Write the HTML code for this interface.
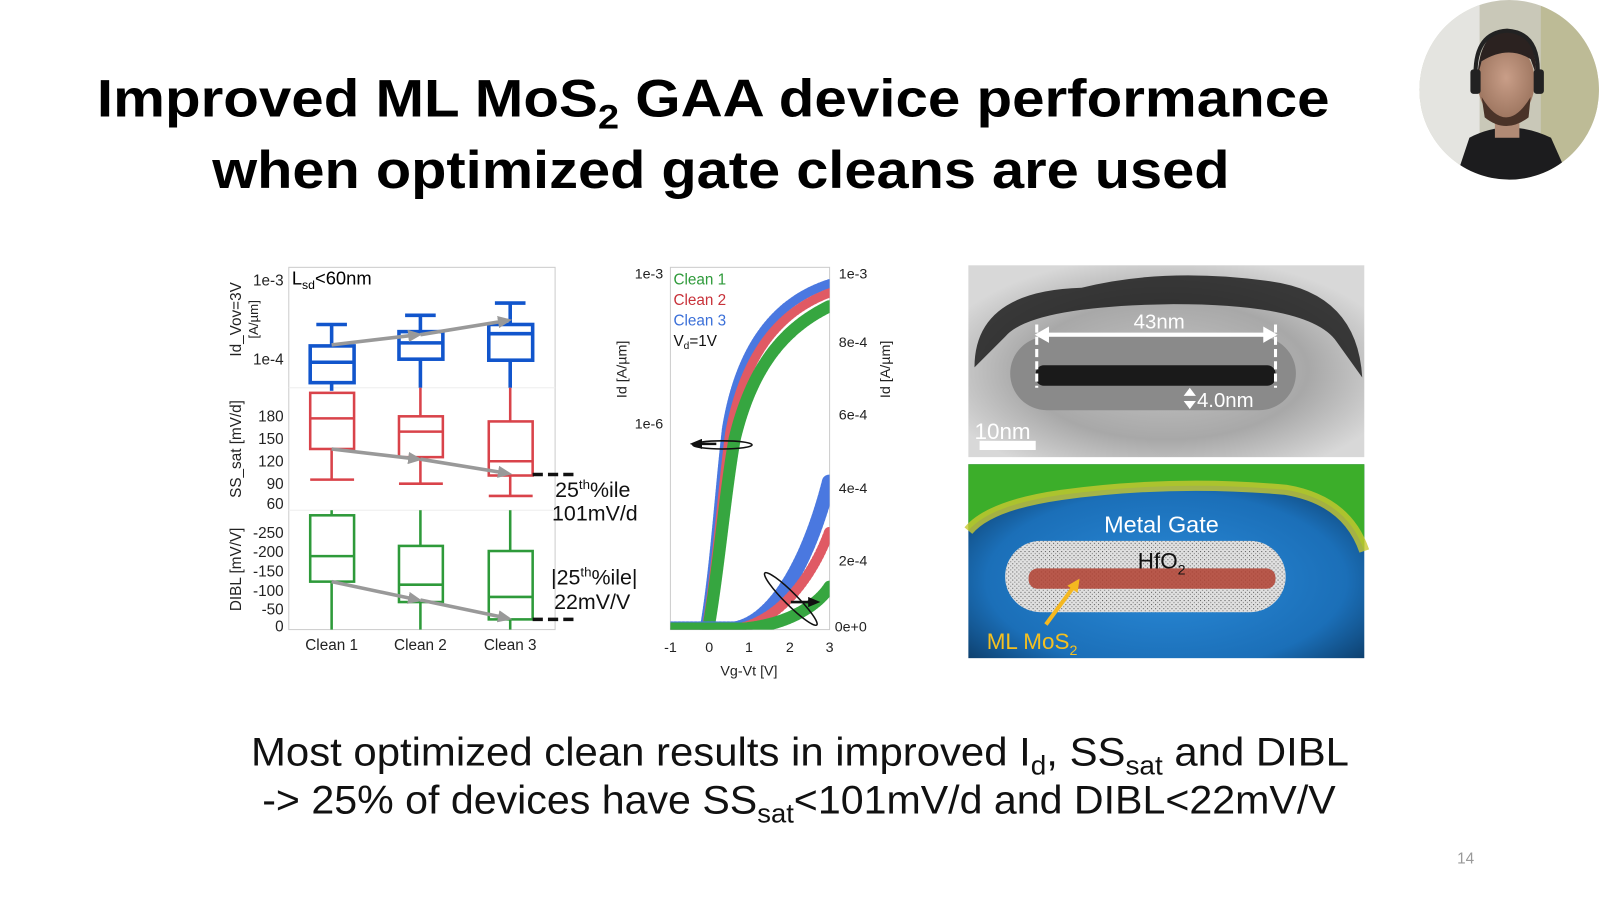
<!DOCTYPE html>
<html><head><meta charset="utf-8"><style>
html,body{margin:0;padding:0;background:#fff;}
svg{display:block;}
text{font-family:"Liberation Sans",sans-serif;}
</style></head><body>
<svg width="1600" height="900" viewBox="0 0 1568 882" preserveAspectRatio="none" xmlns="http://www.w3.org/2000/svg">
<defs>
<radialGradient id="face" cx="50%" cy="45%" r="50%"><stop offset="0" stop-color="#c99e88"/><stop offset="1" stop-color="#a07862"/></radialGradient>
<marker id="ga" markerUnits="userSpaceOnUse" markerWidth="14" markerHeight="12" refX="10" refY="6" orient="auto"><path d="M0,0 L14,6 L0,12z" fill="#999"/></marker>
<marker id="ba" markerUnits="userSpaceOnUse" markerWidth="12" markerHeight="10" refX="8" refY="5" orient="auto"><path d="M0,0 L12,5 L0,10z" fill="#111"/></marker>
<radialGradient id="tem" cx="50%" cy="55%" r="60%"><stop offset="0" stop-color="#c4c4c4"/><stop offset="0.6" stop-color="#a8a8a8"/><stop offset="1" stop-color="#d8d8d8"/></radialGradient>
<radialGradient id="eds" cx="50%" cy="60%" r="65%"><stop offset="0" stop-color="#2a8ad8"/><stop offset="0.7" stop-color="#1b6fb8"/><stop offset="1" stop-color="#0d3e6b"/></radialGradient>
<pattern id="dots" width="4" height="4" patternUnits="userSpaceOnUse"><rect width="4" height="4" fill="#e0e0e0"/><rect width="1" height="1" fill="#555"/><rect x="2" y="2" width="1" height="1" fill="#777"/></pattern>
</defs>
<rect width="1568" height="882" fill="#fff"/>

<text x="95" y="114" font-size="52" font-weight="bold" textLength="1208" lengthAdjust="spacingAndGlyphs">Improved ML MoS<tspan font-size="34" dy="12">2</tspan><tspan dy="-12"> GAA device performance</tspan></text>
<text x="208" y="184" font-size="52" font-weight="bold" textLength="997" lengthAdjust="spacingAndGlyphs">when optimized gate cleans are used</text>

<clipPath id="cc"><circle cx="1479" cy="88" r="88"/></clipPath>
<g clip-path="url(#cc)">
<rect x="1390" y="0" width="180" height="180" fill="#c9c8b8"/>
<rect x="1390" y="0" width="60" height="180" fill="#e4e4e0"/>
<rect x="1510" y="0" width="60" height="180" fill="#bdbb96"/>
<path d="M1425,180 L1440,135 Q1478,115 1520,135 L1540,180z" fill="#1c1c1e"/>
<rect x="1465" y="105" width="24" height="30" fill="#b08a75"/>
<ellipse cx="1476" cy="80" rx="28" ry="38" fill="url(#face)"/>
<path d="M1448,75 Q1450,30 1478,30 Q1506,32 1505,72 L1500,58 Q1478,44 1452,60z" fill="#2b2220"/>
<path d="M1452,95 Q1476,135 1500,95 L1498,115 Q1476,132 1455,115z" fill="#4a3328"/>
<path d="M1446,72 Q1446,32 1477,30 Q1508,32 1507,72" fill="none" stroke="#222" stroke-width="4"/>
<rect x="1441" y="68" width="10" height="24" rx="3" fill="#222"/><rect x="1503" y="68" width="10" height="24" rx="3" fill="#222"/>
</g>

<rect x="283" y="262" width="261" height="355" fill="none" stroke="#ccc"/>
<line x1="283" y1="380" x2="544" y2="380" stroke="#eee"/><line x1="283" y1="500" x2="544" y2="500" stroke="#eee"/>
<text x="286" y="279" font-size="18">L<tspan font-size="12" dy="4">sd</tspan><tspan dy="-4">&lt;60nm</tspan></text>
<g font-size="15" text-anchor="end" fill="#222">
<text x="278" y="280">1e-3</text><text x="278" y="357">1e-4</text>
<text x="278" y="413">180</text><text x="278" y="435">150</text><text x="278" y="457">120</text><text x="278" y="479">90</text><text x="278" y="499">60</text>
<text x="278" y="527">-250</text><text x="278" y="546">-200</text><text x="278" y="565">-150</text><text x="278" y="584">-100</text><text x="278" y="602">-50</text><text x="278" y="619">0</text>
</g>
<g font-size="15" fill="#222" text-anchor="middle">
<text transform="translate(236,313) rotate(-90)">Id_Vov=3V</text>
<text transform="translate(253,313) rotate(-90)" font-size="13">[A/µm]</text>
<text transform="translate(236,440) rotate(-90)">SS_sat [mV/d]</text>
<text transform="translate(236,558) rotate(-90)">DIBL [mV/V]</text>
<text x="325" y="637">Clean 1</text><text x="412" y="637">Clean 2</text><text x="500" y="637">Clean 3</text>
</g>
<g stroke="#1155cc" stroke-width="3.5" fill="none">
<rect x="304" y="339" width="43" height="36"/><line x1="304" y1="355" x2="347" y2="355"/><line x1="325" y1="318" x2="325" y2="339"/><line x1="310" y1="318" x2="340" y2="318"/><line x1="325" y1="375" x2="325" y2="383"/>
<rect x="391" y="325" width="43" height="27"/><line x1="391" y1="336" x2="434" y2="336"/><line x1="412" y1="309" x2="412" y2="325"/><line x1="397" y1="309" x2="427" y2="309"/><line x1="412" y1="352" x2="412" y2="380"/>
<rect x="479" y="318" width="43" height="35"/><line x1="479" y1="327" x2="522" y2="327"/><line x1="500" y1="297" x2="500" y2="318"/><line x1="485" y1="297" x2="515" y2="297"/><line x1="500" y1="353" x2="500" y2="380"/>
</g>
<g stroke="#d9434a" stroke-width="2.5" fill="none">
<rect x="304" y="385" width="43" height="55"/><line x1="304" y1="410" x2="347" y2="410"/><line x1="325" y1="440" x2="325" y2="470"/><line x1="304" y1="470" x2="347" y2="470"/>
<rect x="391" y="408" width="43" height="40"/><line x1="391" y1="423" x2="434" y2="423"/><line x1="412" y1="380" x2="412" y2="408"/><line x1="412" y1="448" x2="412" y2="474"/><line x1="391" y1="474" x2="434" y2="474"/>
<rect x="479" y="413" width="43" height="53"/><line x1="479" y1="452" x2="522" y2="452"/><line x1="500" y1="380" x2="500" y2="413"/><line x1="500" y1="466" x2="500" y2="486"/><line x1="479" y1="486" x2="522" y2="486"/>
</g>
<g stroke="#2e9a3a" stroke-width="2.5" fill="none">
<rect x="304" y="505" width="43" height="65"/><line x1="304" y1="545" x2="347" y2="545"/><line x1="325" y1="500" x2="325" y2="505"/><line x1="325" y1="570" x2="325" y2="617"/>
<rect x="391" y="535" width="43" height="55"/><line x1="391" y1="573" x2="434" y2="573"/><line x1="412" y1="500" x2="412" y2="535"/><line x1="412" y1="590" x2="412" y2="617"/>
<rect x="479" y="540" width="43" height="67"/><line x1="479" y1="585" x2="522" y2="585"/><line x1="500" y1="500" x2="500" y2="540"/><line x1="500" y1="607" x2="500" y2="617"/>
</g>
<g stroke="#999" stroke-width="3.5" fill="none">
<line x1="325" y1="338" x2="410" y2="328" marker-end="url(#ga)"/><line x1="412" y1="328" x2="498" y2="314" marker-end="url(#ga)"/>
<line x1="325" y1="440" x2="410" y2="450" marker-end="url(#ga)"/><line x1="412" y1="450" x2="498" y2="464" marker-end="url(#ga)"/>
<line x1="325" y1="570" x2="410" y2="588" marker-end="url(#ga)"/><line x1="412" y1="588" x2="498" y2="606" marker-end="url(#ga)"/>
</g>
<g stroke="#111" stroke-width="3.5" stroke-dasharray="10,5"><line x1="522" y1="465" x2="566" y2="465"/><line x1="522" y1="607" x2="566" y2="607"/></g>
<g font-size="21" fill="#111">
<text x="544" y="487">25<tspan font-size="13" dy="-8">th</tspan><tspan dy="8">%ile</tspan></text>
<text x="541" y="510">101mV/d</text>
<text x="540" y="573">|25<tspan font-size="13" dy="-8">th</tspan><tspan dy="8">%ile|</tspan></text>
<text x="543" y="597">22mV/V</text>
</g>

<rect x="657" y="262" width="156" height="355" fill="none" stroke="#ccc"/>
<g font-size="14" fill="#222">
<text x="650" y="273" text-anchor="end">1e-3</text><text x="650" y="420" text-anchor="end">1e-6</text>
<text x="822" y="273">1e-3</text><text x="822" y="340">8e-4</text><text x="822" y="411">6e-4</text><text x="822" y="483">4e-4</text><text x="822" y="554">2e-4</text><text x="818" y="619">0e+0</text>
<g text-anchor="middle"><text x="657" y="639">-1</text><text x="695" y="639">0</text><text x="734" y="639">1</text><text x="774" y="639">2</text><text x="813" y="639">3</text><text x="734" y="662">Vg-Vt [V]</text></g>
<text transform="translate(614,362) rotate(-90)" text-anchor="middle">Id [A/µm]</text>
<text transform="translate(872,362) rotate(-90)" text-anchor="middle">Id [A/µm]</text>
</g>
<g font-size="15"><text x="660" y="279" fill="#2e9a3a">Clean 1</text><text x="660" y="299" fill="#c8323a">Clean 2</text><text x="660" y="319" fill="#3a6fd8">Clean 3</text><text x="660" y="339" fill="#111">V<tspan font-size="10" dy="3">d</tspan><tspan dy="-3">=1V</tspan></text></g>
<clipPath id="mc"><rect x="657" y="262" width="156" height="355"/></clipPath>
<g clip-path="url(#mc)" fill="none" stroke-linecap="round">
<path d="M690,617 C700,560 705,480 712,420 C725,340 760,295 813,278" stroke="#4a78e0" stroke-width="9" stroke-dasharray="2,1.5"/>
<path d="M692,617 C702,560 708,480 715,425 C730,345 765,305 813,287" stroke="#e05a64" stroke-width="9" stroke-dasharray="2,1.5"/>
<path d="M694,617 C704,560 711,480 720,430 C738,355 772,320 813,300" stroke="#36a640" stroke-width="12" stroke-dasharray="2.5,1.2"/>
<path d="M657,616 L720,616 C755,610 790,560 813,470" stroke="#4a78e0" stroke-width="14" stroke-dasharray="1.5,2.5"/>
<path d="M657,616 L722,616 C760,610 795,570 813,520" stroke="#e05a64" stroke-width="10" stroke-dasharray="1.5,2.5"/>
<path d="M657,616 L730,616 C770,612 800,595 813,575" stroke="#36a640" stroke-width="12" stroke-dasharray="2,1.2"/>
<line x1="657" y1="617" x2="730" y2="617" stroke="#36a640" stroke-width="3"/>
</g>
<ellipse cx="708" cy="436" rx="29" ry="4" fill="none" stroke="#111" stroke-width="1.5"/>
<line x1="702" y1="435" x2="680" y2="435" stroke="#111" stroke-width="2.5" marker-end="url(#ba)"/>
<ellipse cx="775" cy="587" rx="36" ry="6" transform="rotate(45 775 587)" fill="none" stroke="#111" stroke-width="1.5"/>
<line x1="775" y1="590" x2="800" y2="590" stroke="#111" stroke-width="2.5" marker-end="url(#ba)"/>

<rect x="949" y="260" width="388" height="188" fill="url(#tem)"/>
<path d="M955,360 Q955,285 1060,282 Q1140,262 1240,275 Q1330,285 1335,370 L1310,335 Q1285,298 1150,298 Q1010,300 985,330z" fill="#1e1e1e" opacity="0.85"/>
<rect x="990" y="330" width="280" height="72" rx="36" fill="#8a8a8a"/>
<rect x="1015" y="358" width="235" height="20" rx="8" fill="#1a1a1a"/>
<line x1="1024" y1="328" x2="1242" y2="328" stroke="#fff" stroke-width="4"/>
<path d="M1014,328 l14,-8 v16z M1252,328 l-14,-8 v16z" fill="#fff"/>
<g stroke="#fff" stroke-width="3" stroke-dasharray="8,4"><line x1="1016" y1="318" x2="1016" y2="380"/><line x1="1250" y1="318" x2="1250" y2="380"/></g>
<text x="1111" y="322" font-size="20" fill="#fff">43nm</text>
<path d="M1160,388 l6,-8 l6,8z M1160,393 l6,8 l6,-8z" fill="#fff"/>
<text x="1173" y="399" font-size="20" fill="#fff">4.0nm</text>
<text x="955" y="430" font-size="22" fill="#fff">10nm</text>
<rect x="960" y="432" width="55" height="9" fill="#fff"/>

<rect x="949" y="455" width="388" height="190" fill="url(#eds)"/>
<path d="M949,455 H1337 V540 Q1320,490 1260,480 Q1150,470 1040,485 Q970,495 949,520z" fill="#3cae2a"/>
<path d="M949,520 Q970,495 1040,485 Q1150,470 1260,480 Q1320,490 1337,540" fill="none" stroke="#c8c830" stroke-width="10" opacity="0.8"/>
<rect x="985" y="530" width="275" height="70" rx="35" fill="url(#dots)"/>
<rect x="1008" y="557" width="242" height="20" rx="9" fill="#b04030" opacity="0.85"/>
<text x="1082" y="522" font-size="23" fill="#fff">Metal Gate</text>
<text x="1115" y="557" font-size="22" fill="#111">HfO<tspan font-size="14" dy="6">2</tspan></text>
<line x1="1025" y1="612" x2="1053" y2="574" stroke="#f5b820" stroke-width="4"/>
<path d="M1058,567 l-2,14 l-10,-7z" fill="#f5b820"/>
<text x="967" y="636" font-size="22" fill="#f5c020">ML MoS<tspan font-size="14" dy="6">2</tspan></text>

<text x="246" y="750" font-size="39" fill="#111" textLength="1076" lengthAdjust="spacingAndGlyphs">Most optimized clean results in improved I<tspan font-size="26" dy="9">d</tspan><tspan dy="-9">, SS</tspan><tspan font-size="26" dy="9">sat</tspan><tspan dy="-9"> and DIBL</tspan></text>
<text x="257" y="797" font-size="39" fill="#111" textLength="1052" lengthAdjust="spacingAndGlyphs">-&gt; 25% of devices have SS<tspan font-size="26" dy="9">sat</tspan><tspan dy="-9">&lt;101mV/d and DIBL&lt;22mV/V</tspan></text>
<text x="1428" y="846" font-size="15" fill="#999">14</text>
</svg>
</body></html>
